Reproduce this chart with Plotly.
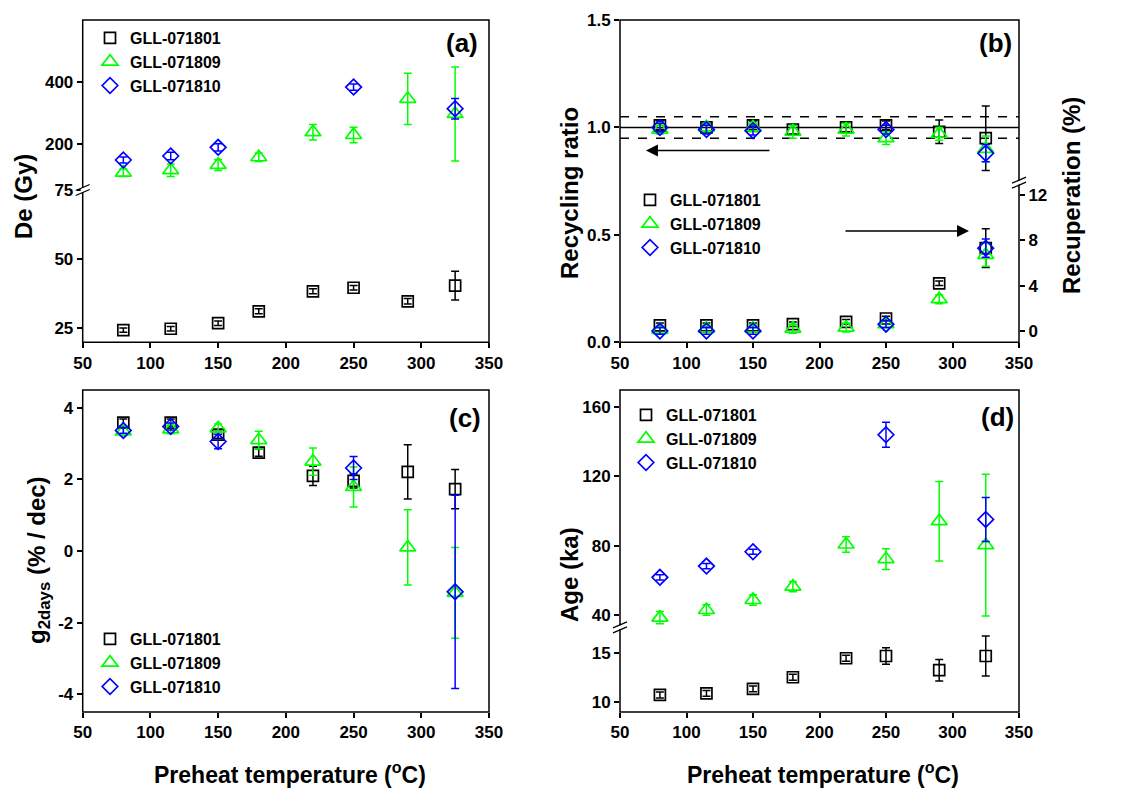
import plotly.graph_objects as go

# ---------------- data ----------------
temps = [80, 115, 150, 180, 220, 250, 290, 325]
temps_810 = [80, 115, 150, 250, 325]
names = ["GLL-071801", "GLL-071809", "GLL-071810"]

# (a) equivalent dose De (Gy)
de_801 = [24.4, 24.9, 26.9, 31.2, 38.4, 39.7, 34.8, 40.5]
de_801_err = [0.8, 0.8, 0.8, 0.9, 0.9, 0.8, 1.0, 5.2]
de_809 = [106, 114, 131, 156, 237, 228, 345, 296]
de_809_err = [12, 20, 18, 14, 25, 25, 83, 152]
de_810 = [147, 160, 188, 383, 313]
de_810_err = [10, 12, 12, 10, 33]

# (b) recycling ratio and recuperation (%)
rr_801 = [1.01, 1.00, 1.01, 0.99, 1.00, 1.01, 0.98, 0.95]
rr_801_err = [0.02, 0.02, 0.02, 0.02, 0.02, 0.02, 0.055, 0.15]
rr_809 = [0.99, 1.00, 1.00, 0.98, 0.99, 0.95, 0.97, 0.90]
rr_809_err = [0.02, 0.02, 0.02, 0.03, 0.03, 0.03, 0.03, 0.06]
rr_810 = [1.00, 0.99, 0.985, 0.99, 0.88]
rr_810_err = [0.02, 0.02, 0.02, 0.02, 0.04]

rec_801 = [0.5, 0.5, 0.5, 0.6, 0.8, 1.1, 4.2, 7.3]
rec_801_err = [0.2, 0.2, 0.2, 0.2, 0.2, 0.2, 0.2, 1.7]
rec_809 = [0.1, 0.2, 0.2, 0.2, 0.3, 0.6, 2.8, 6.7]
rec_809_err = [0.3, 0.3, 0.3, 0.4, 0.4, 0.3, 0.4, 1.0]
rec_810 = [0.0, 0.0, 0.0, 0.6, 7.3]
rec_810_err = [0.3, 0.3, 0.3, 0.3, 0.8]

rr_ref_solid = [1.0]
rr_ref_dashed = [0.95, 1.05]

# (c) fading rate g2days (%/decade)
g_801 = [3.59, 3.59, 3.25, 2.75, 2.10, 1.96, 2.21, 1.73]
g_801_err = [0.1, 0.1, 0.1, 0.1, 0.27, 0.2, 0.76, 0.55]
g_809 = [3.34, 3.40, 3.43, 3.10, 2.50, 1.79, 0.10, -1.17]
g_809_err = [0.12, 0.12, 0.12, 0.25, 0.38, 0.56, 1.05, 1.27]
g_810 = [3.37, 3.48, 3.06, 2.32, -1.14]
g_810_err = [0.08, 0.10, 0.20, 0.32, 2.70]

# (d) age (ka)
age_801 = [10.74, 10.90, 11.36, 12.55, 14.49, 14.72, 13.27, 14.72]
age_801_err = [0.3, 0.3, 0.3, 0.3, 0.3, 0.85, 1.1, 2.05]
age_809 = [38.3, 42.7, 48.5, 56.2, 80.6, 72.2, 94.1, 80.2]
age_809_err = [3.5, 3, 3, 3, 4.5, 6, 23, 41]
age_810 = [61.6, 68.1, 76.4, 144.1, 95.1]
age_810_err = [1.5, 1.5, 1.5, 7.2, 12.7]

# tick labels
x_ticks = [50, 100, 150, 200, 250, 300, 350]
a_low_ticks = [25, 50, 75]
a_up_ticks = [200, 400]
b_left_ticks = [0.0, 0.5, 1.0, 1.5]
b_right_ticks = [0, 4, 8, 12]
c_ticks = [-4, -2, 0, 2, 4]
c_tick_text = ["-4", "-2", "0", "2", "4"]
d_low_ticks = [10, 15]
d_up_ticks = [40, 80, 120, 160]

# ---------------- layout geometry (pixels) ----------------
W, H = 1132, 790
def fx(p):
    return p / W
def fy(p):
    return 1 - p / H

L1, R1, L2, R2 = 82.7, 489.0, 620.0, 1019.0
T1, B1, T2, B2 = 20.0, 342.3, 390.0, 712.0
A_BRK, B_BRK, D_BRK = 190.0, 182.7, 627.3

BLACK, GREEN, BLUE = "#000000", "#00ff00", "#0000ff"
colors = [BLACK, GREEN, BLUE]
symbols = ["square-open", "triangle-up-open", "diamond-open"]
sizes = [11, 14, 12]
FONT = "Liberation Sans, Arial, sans-serif"

fig = go.Figure()

def add(x, y, err, k, xa, ya, legend, show):
    fig.add_trace(go.Scatter(
        x=x, y=y, mode="markers", name=names[k],
        xaxis=xa, yaxis=ya, legend=legend, showlegend=show,
        marker=dict(symbol=symbols[k], size=sizes[k], color=colors[k],
                    line=dict(width=1.7, color=colors[k])),
        error_y=dict(type="data", array=err, visible=True, color=colors[k],
                     thickness=1.5, width=4),
        cliponaxis=False,
    ))

# (a)
add(temps, de_801, de_801_err, 0, "x", "y", "legend", True)
add(temps, de_809, de_809_err, 1, "x", "y2", "legend", True)
add(temps_810, de_810, de_810_err, 2, "x", "y2", "legend", True)
# (b)
add(temps, rr_801, rr_801_err, 0, "x2", "y3", "legend2", True)
add(temps, rr_809, rr_809_err, 1, "x2", "y3", "legend2", True)
add(temps_810, rr_810, rr_810_err, 2, "x2", "y3", "legend2", True)
add(temps, rec_801, rec_801_err, 0, "x2", "y4", "legend2", False)
add(temps, rec_809, rec_809_err, 1, "x2", "y4", "legend2", False)
add(temps_810, rec_810, rec_810_err, 2, "x2", "y4", "legend2", False)
# (c)
add(temps, g_801, g_801_err, 0, "x3", "y5", "legend3", True)
add(temps, g_809, g_809_err, 1, "x3", "y5", "legend3", True)
add(temps_810, g_810, g_810_err, 2, "x3", "y5", "legend3", True)
# (d)
add(temps, age_801, age_801_err, 0, "x4", "y6", "legend4", True)
add(temps, age_809, age_809_err, 1, "x4", "y7", "legend4", True)
add(temps_810, age_810, age_810_err, 2, "x4", "y7", "legend4", True)

tickfont = dict(family=FONT, size=17, color="black", weight="bold")
common_ax = dict(showgrid=False, zeroline=False, showline=False, ticks="outside",
                 ticklen=5, tickwidth=1.5, tickcolor="black", tickfont=tickfont,
                 automargin=False)

def xax(l, r, anchor):
    return dict(common_ax, domain=[fx(l), fx(r)], range=[50, 350],
                tickvals=x_ticks, anchor=anchor)

def yax(top, bot, rng, tv, anchor, tt=None, side="left"):
    d = dict(common_ax, domain=[fy(bot), fy(top)], range=rng, tickvals=tv,
             anchor=anchor, side=side)
    if tt is not None:
        d["ticktext"] = tt
    return d

fig.update_layout(
    template="none",
    width=W, height=H, margin=dict(l=0, r=0, t=0, b=0, autoexpand=False),
    paper_bgcolor="white", plot_bgcolor="white",
    font=dict(family=FONT, color="black"),
    xaxis=xax(L1, R1, "y"),
    xaxis2=xax(L2, R2, "y3"),
    xaxis3=xax(L1, R1, "y5"),
    xaxis4=xax(L2, R2, "y6"),
    yaxis=yax(A_BRK, B1, [20, 75], a_low_ticks, "x"),
    yaxis2=yax(T1, A_BRK, [50, 600], a_up_ticks, "x"),
    yaxis3=yax(T1, B1, [0, 1.5], b_left_ticks, "x2"),
    yaxis4=yax(B_BRK, B1, [-1, 13.07], b_right_ticks, "x2", side="right"),
    yaxis5=yax(T2, B2, [-4.5, 4.5], c_ticks, "x3", tt=c_tick_text),
    yaxis6=yax(D_BRK, B2, [9.0, 17.65], d_low_ticks, "x4"),
    yaxis7=yax(T2, D_BRK, [32.7, 170], d_up_ticks, "x4"),
)
fig.layout.yaxis3.tickformat = ".1f"

legfont = dict(family=FONT, size=16, color="black", weight="bold")
def leg(xp, yp):
    return dict(x=fx(xp), y=fy(yp), xanchor="left", yanchor="top",
                bgcolor="rgba(0,0,0,0)", font=legfont, tracegroupgap=0,
                itemwidth=30, borderwidth=0)
fig.update_layout(legend=leg(90, 21), legend2=leg(630, 183),
                  legend3=leg(90, 622), legend4=leg(626, 398))

shapes = []
# frames
for (l, r, t, b) in [(L1, R1, T1, B1), (L2, R2, T1, B1), (L1, R1, T2, B2), (L2, R2, T2, B2)]:
    shapes.append(dict(type="rect", xref="paper", yref="paper",
                       x0=fx(l), x1=fx(r), y0=fy(b), y1=fy(t),
                       line=dict(color="black", width=1.5), layer="above"))
# reference lines in (b)
for v in rr_ref_solid:
    shapes.append(dict(type="line", xref="x2 domain", yref="y3", x0=0, x1=1, y0=v, y1=v,
                       line=dict(color="black", width=1.5), layer="below"))
for v in rr_ref_dashed:
    shapes.append(dict(type="line", xref="x2 domain", yref="y3", x0=0, x1=1, y0=v, y1=v,
                       line=dict(color="black", width=1.5, dash="dash"), layer="below"))
# axis-break marks
def brk(xp, yp):
    out = []
    out.append(dict(type="rect", xref="paper", yref="paper",
                    x0=fx(xp - 2), x1=fx(xp + 2), y0=fy(yp + 2), y1=fy(yp - 2),
                    fillcolor="white", line=dict(width=0), layer="above"))
    for dy in (-2.5, 2.5):
        out.append(dict(type="line", xref="paper", yref="paper",
                        x0=fx(xp - 7), y0=fy(yp + dy + 3), x1=fx(xp + 7), y1=fy(yp + dy - 3),
                        line=dict(color="black", width=1.3), layer="above"))
    return out
shapes += brk(L1, A_BRK)
shapes += brk(R2, B_BRK)
shapes += brk(L2, D_BRK)
fig.update_layout(shapes=shapes)

title_font = dict(family=FONT, size=24, color="black")
ann = []
def ytitle(text, xp, yp):
    ann.append(dict(text=text, xref="paper", yref="paper", x=fx(xp), y=fy(yp),
                    showarrow=False, textangle=-90, font=title_font,
                    xanchor="center", yanchor="middle"))
ytitle("<b>De (Gy)</b>", 23, 197)
ytitle("<b>Recycling ratio</b>", 570, 193)
ytitle("<b>Recuperation (%)</b>", 1071, 196)
ytitle("<b>g<sub>2days</sub> (% / dec)</b>", 38, 560)
ytitle("<b>Age (ka)</b>", 569, 575)
for xc in (290, 823):
    ann.append(dict(text="<b>Preheat temperature (<sup>o</sup>C)</b>", xref="paper", yref="paper",
                    x=fx(xc), y=fy(773), showarrow=False,
                    font=dict(family=FONT, size=23, color="black"),
                    xanchor="center", yanchor="middle"))
for lab, xc, yc in [("(a)", 462, 43), ("(b)", 995, 43), ("(c)", 465, 418), ("(d)", 997, 417)]:
    ann.append(dict(text="<b>%s</b>" % lab, xref="paper", yref="paper", x=fx(xc), y=fy(yc),
                    showarrow=False, font=dict(family=FONT, size=26, color="black"),
                    xanchor="center", yanchor="middle"))
# arrows in (b)
arrow_left = dict(tail=(163.5, 0.893), head=(69.5, 0.893))
arrow_right = dict(tail=(218.4, 0.518), head=(312.4, 0.518))
for a in (arrow_left, arrow_right):
    ann.append(dict(x=a["head"][0], y=a["head"][1], ax=a["tail"][0], ay=a["tail"][1],
                    xref="x2", yref="y3", axref="x2", ayref="y3", text="",
                    showarrow=True, arrowhead=2, arrowsize=1.6, arrowwidth=1.5,
                    arrowcolor="black"))
fig.update_layout(annotations=ann)

fig.write_html("out.html")
